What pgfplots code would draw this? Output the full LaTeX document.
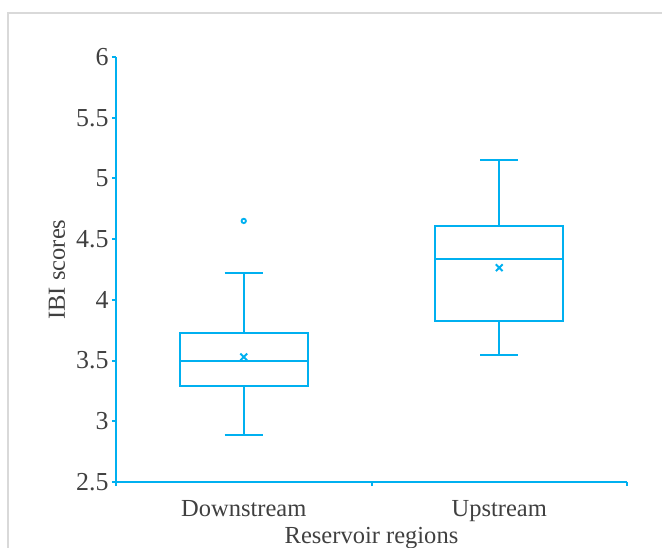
\documentclass[border=0pt]{standalone}
\usepackage{pgfplots}
\pgfplotsset{compat=1.18}
\usepackage{fontspec}
\setmainfont{Liberation Serif}
\definecolor{boxblue}{HTML}{00B0F0}
\definecolor{txt}{HTML}{404040}
\definecolor{framegray}{HTML}{D9D9D9}

\begin{document}
\begin{tikzpicture}
\useasboundingbox (0,0) rectangle (331bp,274bp);
% screenshot frame
\draw[framegray, line width=1bp] (3.75bp,0) -- (3.75bp,267.5bp) -- (331bp,267.5bp);
\begin{axis}[
    at={(58bp,33bp)}, anchor=south west,
    scale only axis, width=255.5bp, height=212.5bp,
    xmin=0, xmax=2, ymin=2.5, ymax=6,
    axis x line*=bottom, axis y line*=left,
    axis line style={boxblue, line width=1bp},
    tick style={boxblue, line width=1bp},
    tick align=outside, major tick length=2bp,
    font=\fontsize{12.3}{15}\selectfont,
    /pgf/number format/assume math mode=true,
    xtick={0,1,2}, xticklabels={},
    extra x ticks={0.5,1.5},
    extra x tick labels={Downstream,Upstream},
    extra x tick style={major tick length=0pt,
        xticklabel style={anchor=base, yshift=-17bp}},
    ytick={2.5,3,...,6},
    yticklabel style={txt, anchor=east, inner sep=0pt, xshift=-1.5bp,
        font=\fontsize{13}{15}\selectfont},
    xticklabel style={txt},
    xlabel={Reservoir regions},
    ylabel={IBI scores},
    xlabel style={txt, at={(axis description cs:0.5,0)}, anchor=base, yshift=-30.5bp},
    ylabel style={txt, at={(axis description cs:0,0.5)}, anchor=center, yshift=29.5bp},
    every axis plot/.append style={boxblue, line width=1bp, solid},
]
% Downstream: box, median, whiskers, caps, mean, outlier
\addplot[no markers] coordinates {(0.25,3.29) (0.75,3.29) (0.75,3.725) (0.25,3.725) (0.25,3.29)} -- cycle;
\addplot[no markers] coordinates {(0.25,3.50) (0.75,3.50)};
\addplot[no markers] coordinates {(0.5,3.725) (0.5,4.22)};
\addplot[no markers] coordinates {(0.5,3.29) (0.5,2.885)};
\addplot[no markers] coordinates {(0.425,4.22) (0.575,4.22)};
\addplot[no markers] coordinates {(0.425,2.885) (0.575,2.885)};
\addplot[only marks, mark=x, mark size=2.4bp, line width=1bp] coordinates {(0.5,3.53)};
\addplot[only marks, mark=o, mark size=1.1bp, line width=0.9bp] coordinates {(0.5,4.65)};
% Upstream
\addplot[no markers] coordinates {(1.25,3.83) (1.75,3.83) (1.75,4.61) (1.25,4.61) (1.25,3.83)} -- cycle;
\addplot[no markers] coordinates {(1.25,4.34) (1.75,4.34)};
\addplot[no markers] coordinates {(1.5,4.61) (1.5,5.15)};
\addplot[no markers] coordinates {(1.5,3.83) (1.5,3.55)};
\addplot[no markers] coordinates {(1.425,5.15) (1.575,5.15)};
\addplot[no markers] coordinates {(1.425,3.55) (1.575,3.55)};
\addplot[only marks, mark=x, mark size=2.4bp, line width=1bp] coordinates {(1.5,4.265)};
\end{axis}
\end{tikzpicture}
\end{document}
